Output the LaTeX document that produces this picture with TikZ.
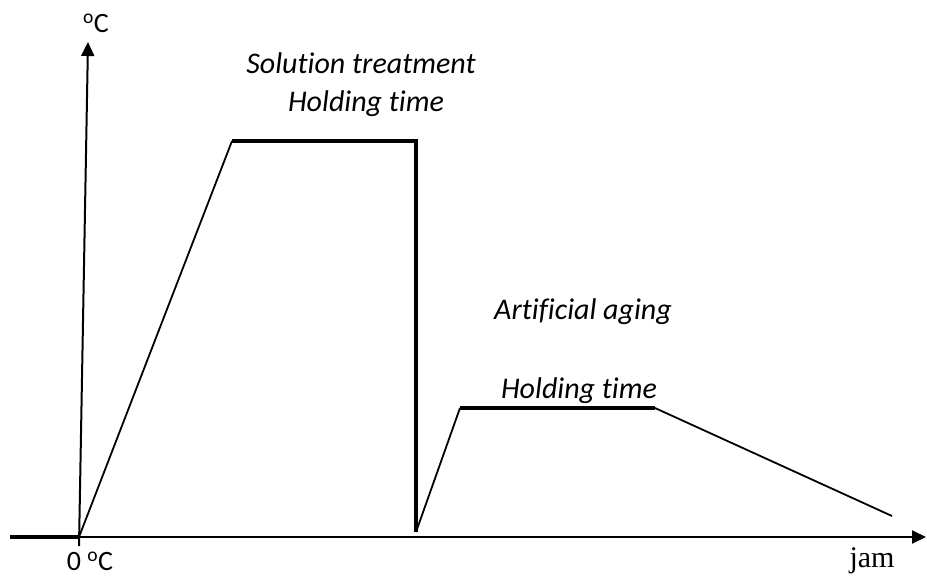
\documentclass[tikz,border=0pt]{standalone}
\usepackage{fontspec}
\setmainfont[Ligatures=NoCommon,RawFeature=-liga]{Carlito}
\newfontfamily\jamfont{Liberation Serif}
\usetikzlibrary{arrows.meta}
\tikzset{
    % Axis styles
    axisline/.style={
        line width=2pt,
        -{Triangle[length=14pt,width=13pt]}
    },
    axisstub/.style={
        line width=3.5pt
    },
    % Curve styles
    rampline/.style={
        line width=1.8pt
    },
    holdline/.style={
        line width=3.5pt
    },
    % Label styles
    steplabel/.style={
        font=\fontsize{30}{32}\selectfont\itshape
    },
    axislabel/.style={
        inner sep=0pt,
        font=\fontsize{28}{30}\selectfont
    }
}
\begin{document}
\begin{tikzpicture}[x=1pt,y=-1pt]
    \useasboundingbox (0,0) rectangle (927,576);

    % Axes
    \coordinate (o) at (79,537);
    \coordinate (xstart) at (10,537);
    \coordinate (xend) at (926,537);
    \coordinate (ybot) at (79,546);
    \coordinate (ytop) at (88,42);
    \draw[axisstub] (xstart) -- (o);
    \draw[axisline] (o) -- (xend);
    \draw[axisline] (ybot) -- (ytop);
    \node[axislabel] (tlabel) at (96,23) {\textsuperscript{o}C};
    \node[axislabel] (zlabel) at (90,561) {0 \textsuperscript{o}C};
    \node[inner sep=0pt,font=\fontsize{30}{32}\selectfont\jamfont] (jlabel) at (872,561) {jam};

    % Solution treatment
    \coordinate (sa) at (232,141);
    \coordinate (sb) at (416,141);
    \coordinate (sc) at (416,532);
    \draw[rampline] (o) -- (sa);
    \draw[holdline] (sa) -- (sb) -- (sc);
    \node[steplabel] (solution) at (361,63) {Solution treatment};
    \node[steplabel] (hold1) at (366,104) {Holding time};

    % Artificial aging
    \coordinate (ha) at (460,408);
    \coordinate (hb) at (655,408);
    \coordinate (cool) at (892,516);
    \draw[rampline] (sc) -- (ha);
    \draw[holdline] (ha) -- (hb);
    \draw[rampline] (hb) -- (cool);
    \node[steplabel] (aging) at (583,312) {Artificial aging};
    \node[steplabel] (hold2) at (579,391) {Holding time};
\end{tikzpicture}
\end{document}
